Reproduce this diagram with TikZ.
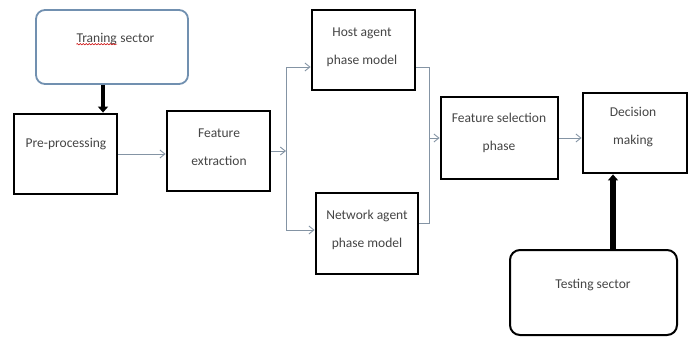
\documentclass[tikz,border=0pt]{standalone}
\usepackage{fontspec}
\setmainfont{Carlito}
\usetikzlibrary{arrows.meta,calc,decorations.pathmorphing}
\definecolor{trainblue}{HTML}{7190B0}
\definecolor{linkgray}{HTML}{8494A4}
\definecolor{txtgray}{HTML}{454545}
\tikzset{
  stagebox/.style={draw=black, line width=2.8pt, fill=white, inner sep=0pt},
  lbl/.style={font=\fontsize{13.5}{28}\selectfont, text=txtgray, align=center, inner sep=0pt},
  link/.style={draw=linkgray, line width=0.9pt},
  linkarrow/.style={link, -{Straight Barb[length=5pt,width=8pt]}},
  heavyarrow/.style={draw=black, -{Triangle[length=6pt,width=10pt]}}
}
\begin{document}
\begin{tikzpicture}[x=1pt,y=-1pt]
\useasboundingbox (0,0) rectangle (692,338);

% rounded input boxes
\node[draw=trainblue, line width=1.8pt, rounded corners=9pt, minimum width=152pt, minimum height=74pt, inner sep=0pt] (train) at (112,47) {};
\node[draw=black, line width=2pt, rounded corners=10pt, minimum width=167pt, minimum height=85pt, inner sep=0pt] (test) at (593.5,292.5) {};

% processing stages
\node[stagebox, minimum width=103pt, minimum height=80pt] (pre)  at (65.5,154) {};
\node[stagebox, minimum width=103pt, minimum height=80pt] (fe)   at (218.5,151) {};
\node[stagebox, minimum width=103pt, minimum height=80pt] (host) at (363.5,50) {};
\node[stagebox, minimum width=102pt, minimum height=81pt] (net)  at (367,233.5) {};
\node[stagebox, minimum width=117pt, minimum height=82pt] (fs)   at (499.5,138) {};
\node[stagebox, minimum width=104pt, minimum height=80pt] (dm)   at (635,133) {};

% labels
\node[lbl, anchor=base east] (trA) at (117,42) {Traning};
\node[lbl, anchor=base west] (trB) at ($(trA.base east)+(3.2,0)$) {sector};
\draw[red!80!black, line width=0.5pt, decorate, decoration={snake, amplitude=0.7pt, segment length=3pt}]
  ($(trA.base west)+(0,2.2)$) -- ($(trA.base east)+(0,2.2)$);
\node[lbl] (preT)  at (66,144)  {Pre-processing};
\node[lbl] (feT)   at (219,147) {Feature\\extraction};
\node[lbl] (hostT) at (362,47.5) {Host agent\\phase model};
\node[lbl] (netT)  at (367,229.5) {Network agent\\phase model};
\node[lbl] (fsT)   at (499,133) {Feature selection\\phase};
\node[lbl] (dmT)   at (633,127.5) {Decision\\making};
\node[lbl] (testT) at (593,285) {Testing sector};

% helper points for the buses
\coordinate (busL) at (286,155);
\coordinate (busR) at (429,138);
\coordinate (hin)  at ($(host.west)+(0,17)$);
\coordinate (hout) at ($(host.east)+(0,17)$);
\coordinate (nin)  at ($(net.west)+(0,-3.5)$);
\coordinate (nout) at ($(net.east)+(0,-10.5)$);
\coordinate (trainX) at (103,0);
\coordinate (testX)  at (613,0);

% heavy input arrows
\draw[heavyarrow, line width=3.5pt] (train.south -| trainX) -- (pre.north -| trainX);
\draw[heavyarrow, line width=5.5pt] (test.north -| testX) -- (dm.south -| testX);

% data flow
\draw[linkarrow] (pre.east) -- (fe.west |- pre.east);
\draw[linkarrow] (fe.east) -- (fe.east -| busL);
\draw[linkarrow] (fe.east -| busL) |- (hin);
\draw[linkarrow] (fe.east -| busL) |- (nin);
\draw[link] (hout) -| (busR);
\draw[link] (nout) -| (busR);
\draw[linkarrow] (busR) -- (fs.west |- busR);
\draw[linkarrow] (fs.east) -- (dm.west |- fs.east);
\end{tikzpicture}
\end{document}
